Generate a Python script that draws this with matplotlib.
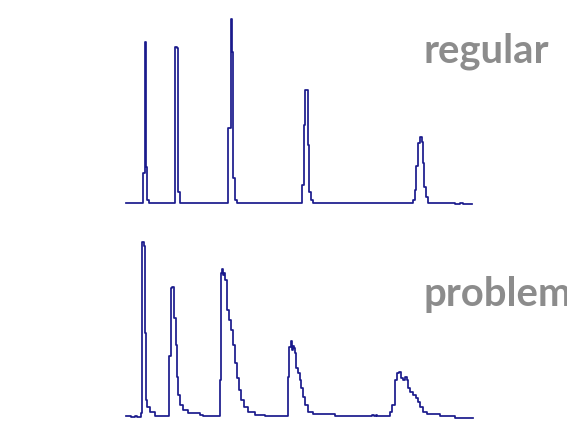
import matplotlib.pyplot as plt

# -------------------------------
# chromatogram traces (time in min, signal in mAU)
# -------------------------------
t_regular = [0, 1.67, 1.9, 2.0, 2.1, 2.3,
             4.9, 5.1, 5.2, 5.4,
             10.2, 10.45, 10.6, 10.7, 10.9, 11.1,
             17.6, 17.8, 17.9, 18.2, 18.3, 18.5, 18.7,
             28.7, 28.9, 29.0, 29.2, 29.4, 29.6, 29.7, 29.8, 30.0, 30.2,
             32.9, 33.4, 33.7, 34.6]
s_regular = [0, 30, 161, 36, 3, 0,
             156, 155, 11, 0,
             75, 184, 151, 25, 3, 0,
             18, 78, 113, 58, 11, 3, 0,
             3, 13, 37, 60, 66, 61, 40, 16, 6, 0,
             -1, 0, -1, -1]

t_problem = [0, 0.5, 0.9, 1.1, 1.45, 1.63, 1.75, 1.9, 1.97, 2.13, 2.4, 2.9,
             4.33, 4.5, 4.6, 4.8, 5.0, 5.1, 5.2, 5.4, 5.7, 6.2, 7.4, 7.7,
             9.4, 9.5, 9.6, 9.7, 9.8, 9.9, 10.1, 10.3, 10.5, 10.7, 10.9, 11.1,
             11.3, 11.5, 11.8, 12.2, 12.9, 13.9,
             16.2, 16.3, 16.45, 16.6, 16.7, 16.8, 16.9, 17.0, 17.2, 17.4, 17.5,
             17.7, 17.9, 18.2, 18.7, 20.9, 24.6, 24.8, 25.0, 25.1,
             26.4, 26.6, 26.9, 27.1, 27.3, 27.5, 27.7, 27.9, 28.1, 28.2, 28.4,
             28.7, 29.0, 29.2, 29.4, 29.7, 30.1, 31.4, 32.9, 34.7]
s_problem = [0, -1, 0, -1, 3, 174, 170, 83, 16, 9, 4, 0,
             60, 128, 129, 98, 71, 39, 21, 11, 6, 3, 1, 0,
             36, 143, 147, 141, 143, 136, 106, 96, 86, 71, 53, 38,
             26, 16, 9, 4, 1, 0,
             39, 69, 75, 66, 70, 68, 63, 48, 43, 36, 28,
             19, 11, 4, 2, 0, 1, 0, 1, 0,
             4, 11, 36, 43, 44, 38, 36, 39, 36, 28, 24,
             21, 18, 14, 9, 4, 2, 0, -2, -2]

labels = ["regular", "problem"]

line_col = "#1a1a8c"
text_col = "#8c8c8c"

fig = plt.figure(figsize=(5.67, 4.22), dpi=100)

ax1 = fig.add_axes([120/567, 212/422, 360/567, 200/422])
ax1.plot(t_regular, s_regular, drawstyle="steps-post", color=line_col, lw=1.25)
ax1.set_xlim(-0.6, 35.4)
ax1.set_ylim(-7, 193)
ax1.axis("off")

ax2 = fig.add_axes([120/567, 0, 360/567, 194/422])
ax2.plot(t_problem, s_problem, drawstyle="steps-post", color=line_col, lw=1.25)
ax2.set_xlim(-0.6, 35.4)
ax2.set_ylim(-6, 188)
ax2.axis("off")

fig.text(423/567, 1 - 62/422, labels[0], color=text_col, fontsize=28.8,
         fontweight="bold", family="Lato", va="baseline", ha="left")
fig.text(424/567, 1 - 306/422, labels[1], color=text_col, fontsize=28.8,
         fontweight="bold", family="Lato", va="baseline", ha="left")

plt.savefig("out.png", dpi=100)
plt.close()
